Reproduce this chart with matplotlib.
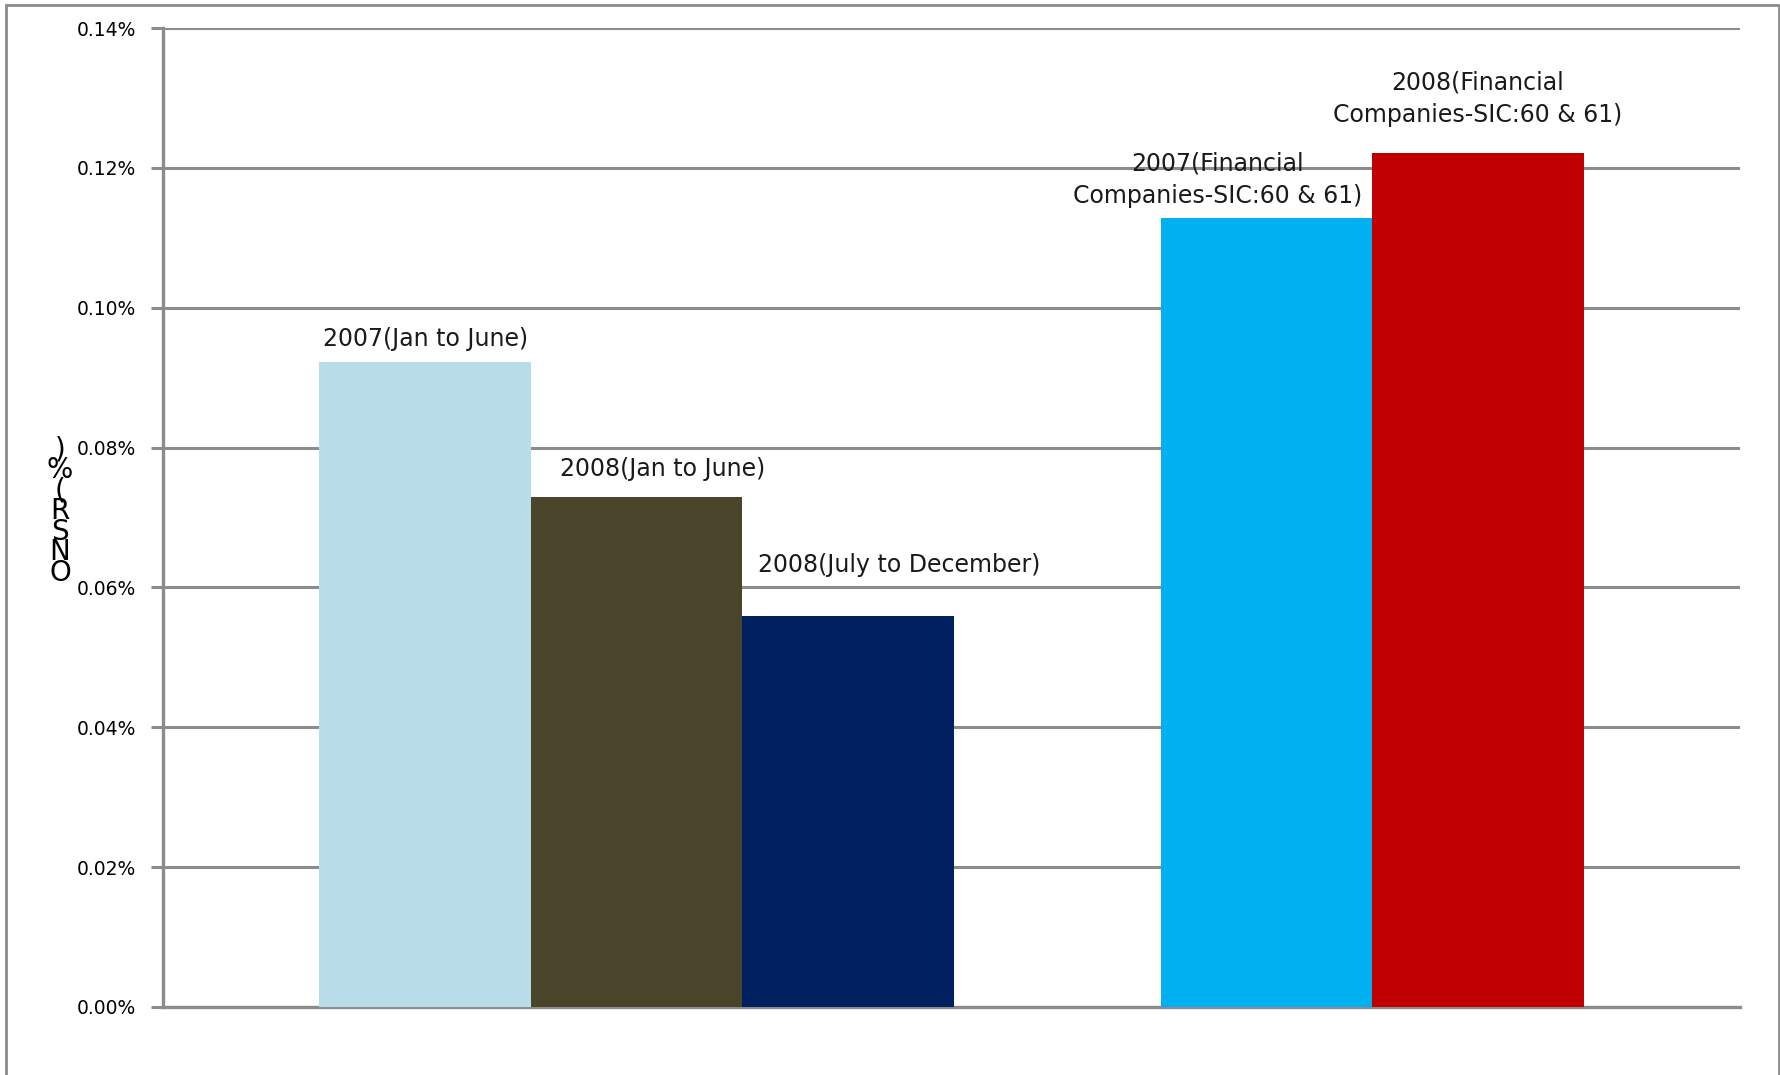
import numpy as np
import matplotlib.pyplot as plt
from matplotlib.patches import Rectangle
from matplotlib.ticker import FuncFormatter

# data
labels = ['2007(Jan to June)', '2008(Jan to June)', '2008(July to December)',
          '2007(Financial\nCompanies-SIC:60 & 61)', '2008(Financial\nCompanies-SIC:60 & 61)']
values = [0.0922, 0.0730, 0.0559, 0.1128, 0.1221]
colors = ['#b7dde8', '#4a452a', '#002060', '#00b0f0', '#c00000']
yticks = [0.00, 0.02, 0.04, 0.06, 0.08, 0.10, 0.12, 0.14]

# layout: slot of each bar (slot 3 left empty) and label offsets
slots = [0, 1, 2, 3.98, 4.98]
lab_dx = [0.0, 0.124, 0.242, -0.232, 0.0]      # in bar widths
lab_dy = [17, 19.5, 37, 28, 39]                # points above bar top

grey = '#8c8c8c'

fig = plt.figure(figsize=(17.81, 10.75), dpi=100)
ax = fig.add_axes([163/1781, 1-1007/1075, (1740-163)/1781, (1007-28)/1075])

ax.bar(slots, values, width=1.0, color=colors, zorder=3)

for i in range(len(values)):
    ax.annotate(labels[i], xy=(slots[i] + lab_dx[i], values[i]),
                xytext=(0, lab_dy[i]), textcoords='offset points',
                ha='center', va='center', fontsize=17, linespacing=1.45,
                color='#1a1a1a', zorder=4)

ax.set_xlim(-1.24, 6.22)
ax.set_ylim(0, 0.14)
ax.set_yticks(yticks)
ax.yaxis.set_major_formatter(FuncFormatter(lambda v, p: '%.2f%%' % v))
ax.set_xticks([])
ax.grid(axis='y', color=grey, linewidth=2.2, zorder=1)
ax.set_axisbelow(True)
for s in ['top', 'right']:
    ax.spines[s].set_visible(False)
for s in ['left', 'bottom']:
    ax.spines[s].set_color(grey)
    ax.spines[s].set_linewidth(2.4)
ax.tick_params(axis='y', length=8.6, width=2.2, color=grey, pad=11, labelsize=13.5)

# y label, upright letters stacked like the reference
fig.text(60/1781, 1-511/1075, ')\n%\n(\nR\nS\nN\nO', ha='center', va='center',
         fontsize=20, linespacing=0.66)

# outer frame around the whole chart
fig.patches.append(Rectangle((6/1781, -0.05), (1779-6)/1781, 1.05-5/1075,
                             transform=fig.transFigure, fill=False,
                             edgecolor=grey, linewidth=2))

fig.savefig('out.png', dpi=100)
